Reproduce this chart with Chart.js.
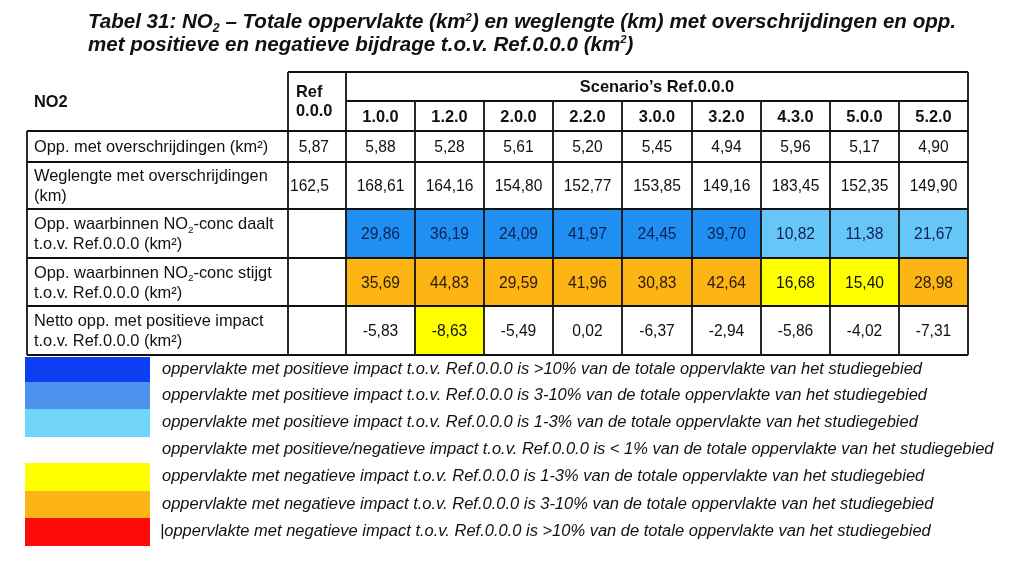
<!DOCTYPE html>
<html>
<head>
<meta charset="utf-8">
<script src="https://cdn.jsdelivr.net/npm/chart.js@4.4.1/dist/chart.umd.min.js"></script>
<style>
  html, body { margin: 0; padding: 0; background: #fff; }
  #wrap { width: 1024px; height: 563px; }
</style>
</head>
<body>
<div id="wrap"><canvas id="table"></canvas></div>
<script>
// ---- data ----
const titleLines = [
  'Tabel 31: NO_{2} – Totale oppervlakte (km^{2}) en weglengte (km) met overschrijdingen en opp.',
  'met positieve en negatieve bijdrage t.o.v. Ref.0.0.0 (km^{2})'
];
const scenarios = ['1.0.0', '1.2.0', '2.0.0', '2.2.0', '3.0.0', '3.2.0', '4.3.0', '5.0.0', '5.2.0'];
const rowLabels = [
  ['Opp. met overschrijdingen (km²)'],
  ['Weglengte met overschrijdingen', '(km)'],
  ['Opp. waarbinnen NO_{2}-conc daalt', 't.o.v. Ref.0.0.0 (km²)'],
  ['Opp. waarbinnen NO_{2}-conc stijgt', 't.o.v. Ref.0.0.0 (km²)'],
  ['Netto opp. met positieve impact', 't.o.v. Ref.0.0.0 (km²)']
];
const refValues = [5.87, 162.5, null, null, null];
const oppOverschr = [5.88, 5.28, 5.61, 5.20, 5.45, 4.94, 5.96, 5.17, 4.90];
const weglengte = [168.61, 164.16, 154.80, 152.77, 153.85, 149.16, 183.45, 152.35, 149.90];
const oppDaalt = [29.86, 36.19, 24.09, 41.97, 24.45, 39.70, 10.82, 11.38, 21.67];
const oppStijgt = [35.69, 44.83, 29.59, 41.96, 30.83, 42.64, 16.68, 15.40, 28.98];
const nettoImpact = [-5.83, -8.63, -5.49, 0.02, -6.37, -2.94, -5.86, -4.02, -7.31];

// impact class per cell ('' = none)
const classDaalt = ['b2', 'b2', 'b2', 'b2', 'b2', 'b2', 'b1', 'b1', 'b1'];
const classStijgt = ['y2', 'y2', 'y2', 'y2', 'y2', 'y2', 'y1', 'y1', 'y2'];
const classNetto = ['', 'y1', '', '', '', '', '', '', ''];

const legendClasses = ['b3', 'b2', 'b1', '', 'y1', 'y2', 'y3'];
const legendTexts = [
  'oppervlakte met positieve impact t.o.v. Ref.0.0.0 is >10% van de totale oppervlakte van het studiegebied',
  'oppervlakte met positieve impact t.o.v. Ref.0.0.0 is 3-10% van de totale oppervlakte van het studiegebied',
  'oppervlakte met positieve impact t.o.v. Ref.0.0.0 is 1-3% van de totale oppervlakte van het studiegebied',
  'oppervlakte met positieve/negatieve impact t.o.v. Ref.0.0.0 is < 1% van de totale oppervlakte van het studiegebied',
  'oppervlakte met negatieve impact t.o.v. Ref.0.0.0 is 1-3% van de totale oppervlakte van het studiegebied',
  'oppervlakte met negatieve impact t.o.v. Ref.0.0.0 is 3-10% van de totale oppervlakte van het studiegebied',
  '|oppervlakte met negatieve impact t.o.v. Ref.0.0.0 is >10% van de totale oppervlakte van het studiegebied'
];

// ---- layout / styles ----
const cellColors = { '': '#ffffff', b2: '#1f8ff2', b1: '#66c6f8', y1: '#ffff00', y2: '#fdb515' };
const swatchColors = { '': 'rgba(0,0,0,0)', b3: '#0d3ff2', b2: '#4b93ef', b1: '#70d5f9', y1: '#ffff00', y2: '#fdb515', y3: '#ff0a0a' };
const colEdges = [27, 288, 346, 415, 484, 553, 622, 692, 761, 830, 899, 968];
const rowEdges = [72, 101, 131, 162, 209, 258, 306, 355];
const legendEdges = [357, 382, 409, 437, 463, 491, 518, 546];
const swatchX = [25, 150];
const FONT = "'Liberation Sans', Arial, sans-serif";
const LABEL_SIZE = 16.4;
const VALUE_SIZE = 15.6;

const rowValues = [oppOverschr, weglengte, oppDaalt, oppStijgt, nettoImpact];
const rowClasses = [null, null, classDaalt, classStijgt, classNetto];
const colCenter = i => (colEdges[i + 2] + colEdges[i + 3]) / 2;
const colW = (colEdges[11] - colEdges[2]) / scenarios.length;

const fmt = v => v.toFixed(2).replace('.', ',');
const fmtRef = v => String(v).replace('.', ',');

const datasets = rowValues.map((vals, r) => ({
  data: vals.map((v, i) => ({ x: colCenter(i), y: [rowEdges[r + 2], rowEdges[r + 3]] })),
  backgroundColor: vals.map((v, i) => cellColors[rowClasses[r] ? rowClasses[r][i] : '']),
  barThickness: colW + 0.6
}));
datasets.push({
  data: legendClasses.map((c, k) => ({ x: (swatchX[0] + swatchX[1]) / 2, y: [legendEdges[k], legendEdges[k + 1]] })),
  backgroundColor: legendClasses.map(c => swatchColors[c]),
  barThickness: swatchX[1] - swatchX[0]
});

// rich text: _{..} subscript, ^{..} superscript; y = visual middle of capitals
function drawRich(ctx, text, x, y, o) {
  const size = o.size || LABEL_SIZE;
  const base = (o.italic ? 'italic ' : '') + (o.bold ? 'bold ' : '');
  const parts = text.split(/(_\{[^}]*\}|\^\{[^}]*\})/).filter(s => s.length);
  const segs = parts.map(p => {
    if (p.startsWith('_{')) return { t: p.slice(2, -1), s: size * 0.6, dy: size * 0.2 };
    if (p.startsWith('^{')) return { t: p.slice(2, -1), s: size * 0.55, dy: -size * 0.36 };
    return { t: p, s: size, dy: 0 };
  });
  let w = 0;
  segs.forEach(sg => { ctx.font = base + sg.s + 'px ' + FONT; sg.w = ctx.measureText(sg.t).width; w += sg.w; });
  if (o.measure) return w;
  let cx = x;
  if (o.align === 'center') cx = x - w / 2;
  else if (o.align === 'right') cx = x - w;
  ctx.fillStyle = o.color || '#111';
  ctx.textBaseline = 'alphabetic';
  ctx.textAlign = 'left';
  const baseline = y + size * 0.36;
  segs.forEach(sg => {
    ctx.font = base + sg.s + 'px ' + FONT;
    ctx.fillText(sg.t, cx, baseline + sg.dy);
    cx += sg.w;
  });
  return w;
}

const tablePlugin = {
  id: 'tablePlugin',
  afterDatasetsDraw(chart) {
    const ctx = chart.ctx;
    const px = v => chart.scales.x.getPixelForValue(v);
    const py = v => chart.scales.y.getPixelForValue(v);
    ctx.save();

    // title, squeezed horizontally to the original width
    const tW = drawRich(ctx, titleLines[0], 0, 0, { size: 21, bold: true, italic: true, measure: true });
    const sx = 868 / tW;
    ctx.save();
    ctx.translate(px(88), 0);
    ctx.scale(sx, 1);
    drawRich(ctx, titleLines[0], 0, py(20.5), { size: 21, bold: true, italic: true });
    drawRich(ctx, titleLines[1], 0, py(43), { size: 21, bold: true, italic: true });
    ctx.restore();

    // grid lines
    ctx.strokeStyle = '#111';
    ctx.lineWidth = 1.8;
    const hline = (y, x0, x1) => { ctx.beginPath(); ctx.moveTo(px(x0), py(y)); ctx.lineTo(px(x1), py(y)); ctx.stroke(); };
    const vline = (x, y0, y1) => { ctx.beginPath(); ctx.moveTo(px(x), py(y0)); ctx.lineTo(px(x), py(y1)); ctx.stroke(); };
    const right = colEdges[11], bottom = rowEdges[7];
    hline(rowEdges[0], colEdges[1], right);
    hline(rowEdges[1], colEdges[2], right);
    for (let r = 2; r < rowEdges.length; r++) hline(rowEdges[r], colEdges[0], right);
    vline(colEdges[0], rowEdges[2], bottom);
    vline(colEdges[1], rowEdges[0], bottom);
    vline(colEdges[2], rowEdges[0], bottom);
    for (let c = 3; c < 11; c++) vline(colEdges[c], rowEdges[1], bottom);
    vline(right, rowEdges[0], bottom);

    // header text
    drawRich(ctx, 'NO2', px(34), py(101), { bold: true });
    drawRich(ctx, 'Ref', px(296), py(91), { bold: true });
    drawRich(ctx, '0.0.0', px(296), py(110), { bold: true });
    drawRich(ctx, 'Scenario’s Ref.0.0.0', px((colEdges[2] + right) / 2), py(86), { bold: true, align: 'center' });
    scenarios.forEach((s, i) => drawRich(ctx, s, px(colCenter(i)), py(116.5), { bold: true, align: 'center' }));

    // rows
    rowLabels.forEach((lines, r) => {
      const mid = (rowEdges[r + 2] + rowEdges[r + 3]) / 2;
      lines.forEach((t, k) => {
        const y = lines.length === 1 ? mid : mid - 10 + k * 20;
        drawRich(ctx, t, px(34), py(y), {});
      });
      if (refValues[r] !== null) drawRich(ctx, fmtRef(refValues[r]), px(329), py(mid), { align: 'right', size: VALUE_SIZE });
      rowValues[r].forEach((v, i) => {
        const cls = rowClasses[r] ? rowClasses[r][i] : '';
        const col = cls.startsWith('b') ? '#0e2152' : (cls === 'y2' ? '#2a1a05' : '#111');
        drawRich(ctx, fmt(v), px(colCenter(i)), py(mid), { align: 'center', color: col, size: VALUE_SIZE });
      });
    });

    // legend text
    const lW = drawRich(ctx, legendTexts[0], 0, 0, { italic: true, size: 16, measure: true });
    const lsx = 760 / lW;
    legendTexts.forEach((t, k) => {
      const mid = (legendEdges[k] + legendEdges[k + 1]) / 2 - 1.5;
      const x0 = t.startsWith('|') ? 160 : 162;
      ctx.save();
      ctx.translate(px(x0), 0);
      ctx.scale(lsx, 1);
      drawRich(ctx, t, 0, py(mid), { italic: true, size: 16 });
      ctx.restore();
    });

    ctx.restore();
  }
};

Chart.defaults.devicePixelRatio = 1;
new Chart(document.getElementById('table'), {
  type: 'bar',
  data: { datasets: datasets },
  options: {
    responsive: true,
    maintainAspectRatio: false,
    animation: false,
    events: [],
    layout: { padding: 0 },
    datasets: { bar: { borderWidth: 0, borderSkipped: false, inflateAmount: 0 } },
    plugins: { legend: { display: false }, tooltip: { enabled: false } },
    scales: {
      x: { type: 'linear', min: 0, max: 1024, stacked: true, offset: false, display: false },
      y: { type: 'linear', min: 0, max: 563, reverse: true, stacked: false, display: false }
    }
  },
  plugins: [tablePlugin]
});
</script>
</body>
</html>
